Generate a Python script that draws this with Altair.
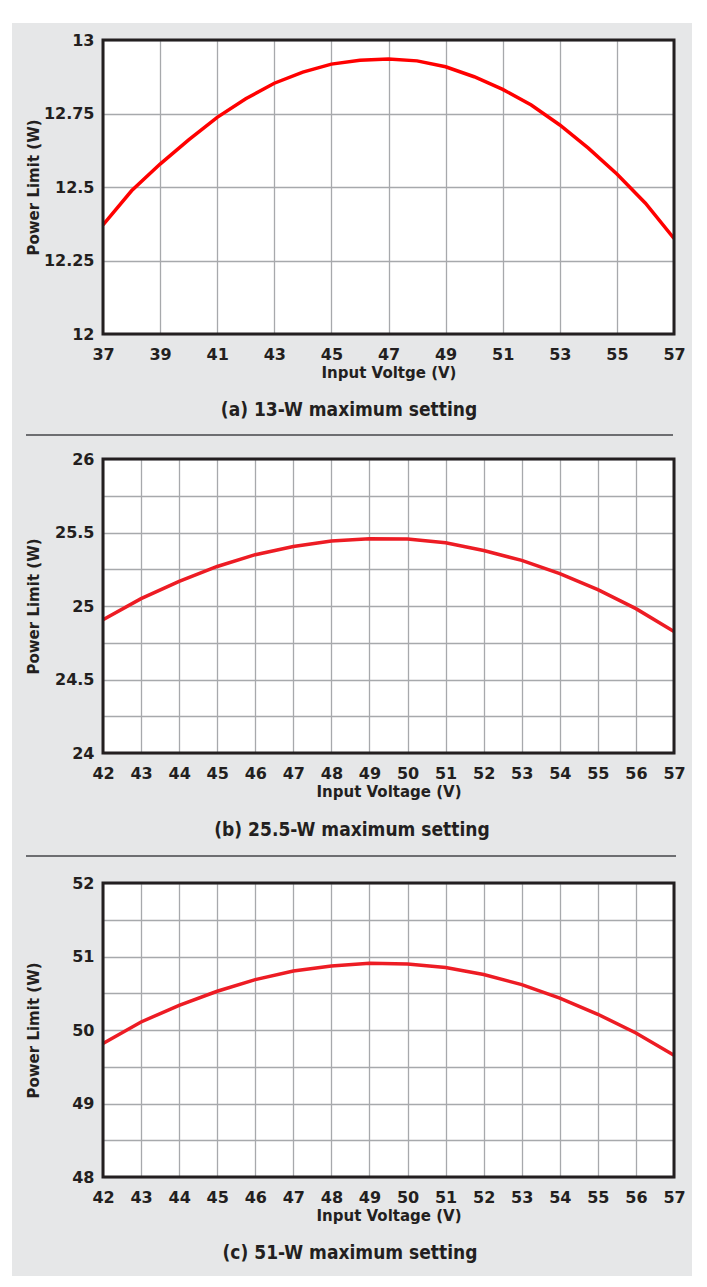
import altair as alt
import pandas as pd

# ---------------- data ----------------
volts_a = list(range(37, 58))
power_a = [12.371, 12.487, 12.578, 12.660, 12.737, 12.800, 12.853, 12.891, 12.918, 12.931,
           12.935, 12.929, 12.909, 12.875, 12.832, 12.779, 12.711, 12.632, 12.544, 12.445, 12.325]

volts_b = list(range(42, 58))
power_b = [24.907, 25.050, 25.167, 25.269, 25.349, 25.405, 25.442, 25.458,
           25.456, 25.430, 25.378, 25.310, 25.220, 25.111, 24.982, 24.827]

volts_c = list(range(42, 58))
power_c = [49.815, 50.109, 50.336, 50.527, 50.686, 50.803, 50.871, 50.907,
           50.898, 50.849, 50.754, 50.618, 50.435, 50.214, 49.959, 49.656]

x_ticks_a = [37, 39, 41, 43, 45, 47, 49, 51, 53, 55, 57]
y_ticks_a = [12, 12.25, 12.5, 12.75, 13]
x_ticks_bc = [42, 43, 44, 45, 46, 47, 48, 49, 50, 51, 52, 53, 54, 55, 56, 57]
y_ticks_b = [24, 24.25, 24.5, 24.75, 25, 25.25, 25.5, 25.75, 26]
y_ticks_c = [48, 48.5, 49, 49.5, 50, 50.5, 51, 51.5, 52]

y_title = "Power Limit (W)"
x_title_a = "Input Voltge (V)"
x_title_bc = "Input Voltage (V)"
captions = ["(a) 13-W maximum setting", "(b) 25.5-W maximum setting", "(c) 51-W maximum setting"]

# ---------------- styling ----------------
BG = "#e6e7e8"
TEXT = "#231f20"
GRID = "#a7a9ac"
SEP = "#6d6e71"
FONT = "DejaVu Sans"
CAP_FONT = "DejaVu Sans Condensed, Liberation Sans Narrow, DejaVu Sans"
PLOT_W = 571
PLOT_H = 294
LEFT = 103  # page x of the plot areas (vconcat aligns them)


def one_row():
    return pd.DataFrame({"k": [0]})


def panel(volts, power, color, x_ticks, y_ticks, label_step, x_title, caption,
          top, slot_top, slot_bottom, cap_pos, sep=None, top_strip=False):
    rx = lambda px: px - LEFT
    ry = lambda py: py - top
    df = pd.DataFrame({"v": volts, "p": power})
    label_expr = (f"abs(datum.value/{label_step} - round(datum.value/{label_step})) < 0.001"
                  " ? format(datum.value, '~g') : ''")

    x_axis = alt.Axis(values=x_ticks, grid=True, gridColor=GRID, gridWidth=1.3,
                      ticks=False, tickSize=0, domain=False,
                      labelFont=FONT, labelFontWeight="bold", labelFontSize=16,
                      labelColor=TEXT, labelPadding=12, labelFlush=False, labelOverlap=False,
                      format="~g",
                      title=x_title, titleFont=FONT, titleFontWeight="bold", titleFontSize=15,
                      titleColor=TEXT, titleX=PLOT_W / 2, titleY=38, titleBaseline="middle",
                      titleAlign="center")
    y_axis = alt.Axis(values=y_ticks, grid=True, gridColor=GRID, gridWidth=1.3,
                      ticks=False, tickSize=0, domain=False,
                      labelFont=FONT, labelFontWeight="bold", labelFontSize=16,
                      labelColor=TEXT, labelPadding=9, labelOverlap=False,
                      labelExpr=label_expr,
                      title=y_title, titleFont=FONT, titleFontWeight="bold", titleFontSize=15,
                      titleColor=TEXT, titleX=-70, titleY=PLOT_H / 2, titleAngle=270,
                      titleBaseline="middle", titleAlign="center")

    layers = []
    # white page margin left of the grey panel
    layers.append(alt.Chart(one_row()).mark_rect(color="white").encode(
        x=alt.value(rx(8)), x2=alt.value(rx(12)),
        y=alt.value(ry(slot_top)), y2=alt.value(ry(slot_bottom))))
    if top_strip:
        layers.append(alt.Chart(one_row()).mark_rect(color="white").encode(
            x=alt.value(rx(8)), x2=alt.value(rx(692)),
            y=alt.value(ry(8)), y2=alt.value(ry(23))))
    line = alt.Chart(df).mark_line(color=color, strokeWidth=3.5, clip=True).encode(
        x=alt.X("v:Q", scale=alt.Scale(domain=[volts[0], volts[-1]], nice=False, zero=False),
                axis=x_axis),
        y=alt.Y("p:Q", scale=alt.Scale(domain=[y_ticks[0], y_ticks[-1]], nice=False, zero=False),
                axis=y_axis),
    )
    layers.append(line)
    layers.append(alt.Chart(one_row()).mark_rect(fillOpacity=0, stroke=TEXT, strokeWidth=3).encode(
        x=alt.value(0), x2=alt.value(PLOT_W), y=alt.value(0), y2=alt.value(PLOT_H)))
    if sep is not None:
        layers.append(alt.Chart(one_row()).mark_rule(color=SEP, strokeWidth=2).encode(
            x=alt.value(rx(sep[0])), x2=alt.value(rx(sep[1])), y=alt.value(ry(sep[2]))))
    layers.append(alt.Chart(pd.DataFrame({"t": [caption]})).mark_text(
        font=CAP_FONT, fontWeight="bold", fontSize=19, color=TEXT,
        align="center", baseline="middle").encode(
        text="t:N", x=alt.value(rx(cap_pos[0])), y=alt.value(ry(cap_pos[1]))))
    return alt.layer(*layers).properties(width=PLOT_W, height=PLOT_H)


pa = panel(volts_a, power_a, "#ff0000", x_ticks_a, y_ticks_a, 0.25, x_title_a, captions[0],
           40, 8, 445, (349, 410), sep=(26, 673, 435), top_strip=True)
pb = panel(volts_b, power_b, "#ed1c24", x_ticks_bc, y_ticks_b, 0.5, x_title_bc, captions[1],
           459, 445, 866, (352, 830), sep=(26, 676, 856))
pc = panel(volts_c, power_c, "#ed1c24", x_ticks_bc, y_ticks_c, 1, x_title_bc, captions[2],
           883, 866, 1276, (350, 1253))

chart = alt.vconcat(pa, pb, pc, spacing=0).properties(
    padding=0, background=BG
).configure_view(fill="white", stroke=None)

chart.save("out.html", embed_options={"renderer": "svg", "actions": False})
